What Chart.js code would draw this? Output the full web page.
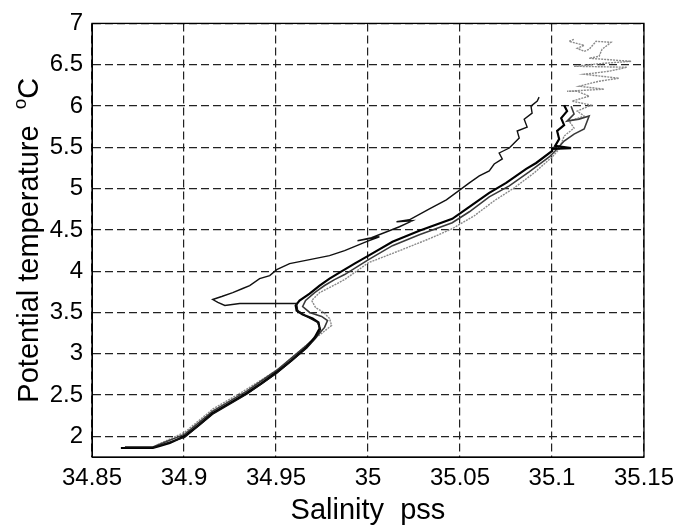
<!DOCTYPE html>
<html>
<head>
<meta charset="utf-8">
<script src="https://cdn.jsdelivr.net/npm/chart.js@4.4.0/dist/chart.umd.min.js"></script>
<style>
  html, body { margin: 0; padding: 0; background: #fff; }
  #wrap { width: 681px; height: 525px; }
</style>
</head>
<body>
<div id="wrap"><canvas id="tsPlot" width="681" height="525"></canvas></div>
<script>
// axis ticks
const salTicks = [34.85, 34.9, 34.95, 35, 35.05, 35.1, 35.15];
const tempTicks = [2, 2.5, 3, 3.5, 4, 4.5, 5, 5.5, 6, 6.5, 7];

// profile 1 (black) - bottom, then the fresh branch on top
const salA = [34.8679, 34.8842, 34.9005, 34.9156, 34.9341, 34.9504, 34.9666, 34.9715, 34.9742, 34.9726, 34.9656, 34.9618,
  34.9612, 34.9411, 34.9303, 34.9222, 34.9184, 34.9156, 34.9205, 34.9265, 34.9319, 34.9357, 34.9411, 34.9466, 34.9504,
  34.9574, 34.9683, 34.9791, 34.9873, 34.9992, 35.0062, 34.9943, 35.0019, 35.0171, 35.0241, 35.0155, 35.0225, 35.0334,
  35.0426, 35.0507, 35.0551, 35.0605, 35.0659, 35.0686, 35.0730, 35.0713, 35.0768, 35.0795, 35.0822, 35.0811, 35.0865,
  35.0849, 35.0892, 35.0886, 35.0920, 35.0930];
const tempA = [1.871, 1.871, 1.991, 2.269, 2.510, 2.764, 3.066, 3.186, 3.295, 3.379, 3.464, 3.524,
  3.609, 3.609, 3.609, 3.585, 3.621, 3.657, 3.693, 3.741, 3.790, 3.826, 3.910, 3.947, 4.019,
  4.091, 4.140, 4.188, 4.248, 4.357, 4.417, 4.369, 4.405, 4.538, 4.610, 4.598, 4.622, 4.755,
  4.864, 4.997, 5.069, 5.153, 5.214, 5.298, 5.359, 5.431, 5.491, 5.552, 5.612, 5.697, 5.745,
  5.841, 5.914, 5.998, 6.059, 6.107];

// profile 2 (black) - main branch
const salB = [34.8657, 34.8831, 34.8869, 34.8923, 34.9005, 34.9080, 34.9156, 34.9249, 34.9341, 34.9422, 34.9504, 34.9585,
  34.9666, 34.9710, 34.9737, 34.9731, 34.9699, 34.9645, 34.9612, 34.9607, 34.9628, 34.9683, 34.9737, 34.9791, 34.9845,
  34.9927, 35.0003, 35.0133, 35.0279, 35.0458, 35.0551, 35.0659, 35.0751, 35.0860, 35.0914,
  35.1001, 35.1001, 35.1104, 35.1017, 35.1039, 35.1028, 35.1066, 35.1050, 35.1082, 35.1066];
const tempB = [1.859, 1.859, 1.883, 1.919, 2.003, 2.136, 2.281, 2.402, 2.522, 2.643, 2.776, 2.921,
  3.078, 3.198, 3.307, 3.379, 3.428, 3.476, 3.524, 3.585, 3.645, 3.729, 3.826, 3.910, 3.983,
  4.091, 4.188, 4.357, 4.490, 4.634, 4.779, 4.948, 5.069, 5.238, 5.310,
  5.455, 5.479, 5.491, 5.516, 5.600, 5.697, 5.769, 5.853, 5.938, 6.010];

// profile 3 (dark grey)
const salC = [34.8831, 34.9005, 34.9156, 34.9341, 34.9504, 34.9666, 34.9726, 34.9764, 34.9780, 34.9748, 34.9683, 34.9645,
  34.9661, 34.9710, 34.9764, 34.9818, 34.9873, 35.0003, 35.0133, 35.0279, 35.0458, 35.0551, 35.0659, 35.0768, 35.0876,
  35.0985, 35.1017, 35.1066, 35.1120, 35.1175, 35.1202, 35.1147, 35.1082, 35.1120, 35.1104];
const tempC = [1.871, 2.027, 2.305, 2.547, 2.800, 3.102, 3.222, 3.319, 3.403, 3.452, 3.500, 3.572,
  3.645, 3.741, 3.826, 3.898, 3.959, 4.140, 4.309, 4.441, 4.586, 4.719, 4.900, 5.033, 5.202,
  5.383, 5.455, 5.576, 5.660, 5.721, 5.878, 5.841, 5.817, 5.902, 5.998];

// profile 4 (light grey, noisy at the top)
const salD = [34.8842, 34.9005, 34.9156, 34.9341, 34.9520, 34.9683, 34.9748, 34.9802, 34.9791, 34.9759, 34.9715, 34.9694,
  34.9737, 34.9802, 34.9873, 35.0003, 35.0171, 35.0334, 35.0458, 35.0578, 35.0686, 35.0795, 35.0903, 35.1001,
  35.1039, 35.1066, 35.1120, 35.1093, 35.1175, 35.1137, 35.1213, 35.1109, 35.1202, 35.1137, 35.1082, 35.1283, 35.1147,
  35.1256, 35.1364, 35.1175, 35.1310, 35.1408, 35.1120, 35.1283, 35.1430, 35.1202, 35.1256, 35.1272, 35.1321, 35.1240,
  35.1202, 35.1175, 35.1137, 35.1175, 35.1093, 35.1120];
const tempD = [1.883, 2.052, 2.329, 2.571, 2.824, 3.138, 3.247, 3.343, 3.428, 3.500, 3.560, 3.645,
  3.741, 3.814, 3.898, 4.103, 4.248, 4.393, 4.514, 4.671, 4.852, 5.009, 5.190, 5.383,
  5.479, 5.636, 5.733, 5.817, 5.878, 5.938, 6.010, 6.059, 6.119, 6.179, 6.179, 6.203, 6.240,
  6.300, 6.336, 6.384, 6.421, 6.469, 6.481, 6.517, 6.541, 6.578, 6.602, 6.686, 6.771, 6.783,
  6.686, 6.662, 6.698, 6.734, 6.783, 6.807];

const FONT = "'Liberation Sans', Arial, Helvetica, sans-serif";

function pts(sal, temp) {
  return sal.map((s, i) => ({ x: s, y: temp[i] }));
}

function line(sal, temp, color, width, dash) {
  return {
    data: pts(sal, temp),
    showLine: true,
    borderColor: color,
    backgroundColor: color,
    borderWidth: width,
    borderDash: dash || [],
    pointRadius: 0,
    tension: 0
  };
}

// box round the plot and the two axis titles
const framePlugin = {
  id: "frame",
  afterDraw(chart) {
    const ctx = chart.ctx;
    const a = chart.chartArea;
    ctx.save();
    ctx.strokeStyle = "#000";
    ctx.lineWidth = 1.3;
    ctx.strokeRect(a.left, a.top, a.right - a.left, a.bottom - a.top);

    ctx.fillStyle = "#000";
    ctx.textBaseline = "alphabetic";
    // x title
    ctx.font = "29px " + FONT;
    ctx.textAlign = "center";
    ctx.fillText("Salinity  pss", (a.left + a.right) / 2, 519);

    // y title with superscript o
    const main = "Potential temperature  ";
    ctx.font = "29px " + FONT;
    const w1 = ctx.measureText(main).width;
    const wC = ctx.measureText("C").width;
    ctx.font = "19px " + FONT;
    const wO = ctx.measureText("o").width;
    const total = w1 + wO + wC;
    ctx.translate(38, (a.top + a.bottom) / 2);
    ctx.rotate(-Math.PI / 2);
    ctx.textAlign = "left";
    let x0 = -total / 2;
    ctx.font = "29px " + FONT;
    ctx.fillText(main, x0, 0);
    ctx.font = "19px " + FONT;
    ctx.fillText("o", x0 + w1, -12);
    ctx.font = "29px " + FONT;
    ctx.fillText("C", x0 + w1 + wO, 0);
    ctx.restore();
  }
};

const config = {
  type: "scatter",
  data: {
    datasets: [
      line(salA, tempA, "#111", 1.4),
      line(salB, tempB, "#000", 2.2),
      line(salC, tempC, "#3a3a3a", 1.6),
      line(salD, tempD, "#8a8a8a", 1.4, [2, 1])
    ]
  },
  options: {
    responsive: false,
    animation: false,
    layout: { padding: { left: 0, right: 34, top: 22, bottom: 0 } },
    plugins: {
      legend: { display: false },
      tooltip: { enabled: false }
    },
    scales: {
      x: {
        type: "linear",
        min: 34.85,
        max: 35.15,
        afterBuildTicks: s => { s.ticks = salTicks.map(v => ({ value: v })); },
        afterFit: s => { s.height = 68; },
        grid: { color: "#222", lineWidth: 1.2, drawTicks: false },
        border: { display: true, color: "#000", width: 1, dash: [8, 4] },
        ticks: {
          color: "#000",
          font: { family: FONT, size: 24 },
          padding: 7,
          maxRotation: 0,
          callback: v => Number(v.toFixed(2)).toString()
        }
      },
      y: {
        type: "linear",
        min: 1.75,
        max: 7,
        afterBuildTicks: s => { s.ticks = tempTicks.map(v => ({ value: v })); },
        afterFit: s => { s.width = 92; },
        grid: { color: "#222", lineWidth: 1.2, drawTicks: false },
        border: { display: true, color: "#000", width: 1, dash: [8, 4] },
        ticks: {
          color: "#000",
          font: { family: FONT, size: 24 },
          padding: 9,
          callback: v => Number(v.toFixed(1)).toString()
        }
      }
    }
  },
  plugins: [framePlugin]
};

const tsChart = new Chart(document.getElementById("tsPlot").getContext("2d"), config);
</script>
</body>
</html>
